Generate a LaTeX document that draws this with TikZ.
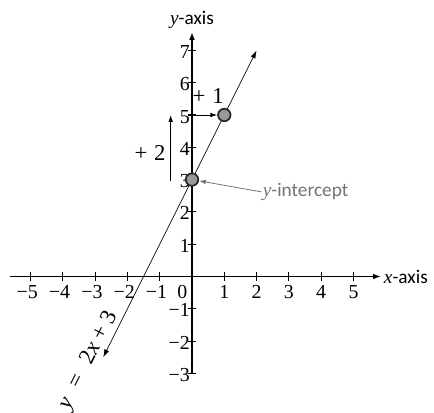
\documentclass[tikz,border=0pt]{standalone}
\usepackage{fontspec}
\setmainfont{Liberation Serif}
\newfontfamily\calfont{Carlito}
\usetikzlibrary{arrows.meta}
\begin{document}
\begin{tikzpicture}[x=1cm,y=1cm,
  axis/.style={line width=1.3pt,-{Latex[length=7pt,width=5pt]}},
  tick/.style={line width=0.9pt},
  ticklab/.style={font=\fontsize{17.5}{17.5}\selectfont,inner sep=0pt},
  graphline/.style={line width=0.6pt,{Latex[length=7pt,width=4.5pt]}-{Latex[length=7pt,width=4.5pt]}},
  pt/.style={circle,draw=black!85,line width=1.5pt,fill=black!40,minimum size=11pt,inner sep=0pt},
  bigl/.style={font=\fontsize{20}{20}\selectfont},
  axlab/.style={font=\fontsize{17}{17}\selectfont,inner sep=1pt}]
\useasboundingbox (-5.944,-4.195) rectangle (7.492,8.560);
% axes
\coordinate (xl) at (-5.63,0);
\coordinate (xr) at (5.85,0);
\coordinate (yb) at (0,-3);
\coordinate (yt) at (0,7.57);
\draw[axis] (xl) -- (xr);
\draw[axis] (yb) -- (yt);
\node[axlab,anchor=west] (xlab) at (5.9,0) {\textit{x}\calfont -axis};
\node[axlab,anchor=south] (ylab) at (0,7.62) {\textit{y}\calfont -axis};
% x ticks
\foreach \x in {-5,-4,-3,-2,-1,1,2,3,4,5}{
  \draw[tick] (\x,-0.13) -- (\x,0.13);
}
\foreach \x in {1,2,3,4,5}{
  \node[ticklab,anchor=base] (xt\x) at (\x,-0.67) {\x};
}
\foreach \x/\n in {-5/a,-4/b,-3/c,-2/d,-1/e}{
  \node[ticklab,anchor=base] (xtn\n) at (\x-0.1,-0.67) {−\the\numexpr-\x\relax};
}
\node[ticklab,anchor=base] (x0) at (-0.3,-0.67) {0};
% y ticks
\foreach \y in {-3,-2,-1,1,2,3,4,5,6,7}{
  \draw[tick] (-0.13,\y) -- (0.13,\y);
}
\foreach \y in {1,2,3,4,5,6,7}{
  \node[ticklab,anchor=base east] (yt\y) at (-0.06,\y-0.25) {\y};
}
\foreach \y/\n in {-1/a,-2/b,-3/c}{
  \node[ticklab,anchor=base east] (ytn\n) at (-0.06,\y-0.25) {−\the\numexpr-\y\relax};
}
% line y = 2x+3
\coordinate (lb) at (-2.75,-2.5);
\coordinate (lt) at (2,7);
\draw[graphline] (lb) -- (lt);
\node[bigl,rotate=63.43,inner sep=0pt] (eq) at (-3.2,-2.6) {\textit{y}\hspace{0.6em}=\hspace{0.6em}2\textit{x}\hspace{0.25em}+\hspace{0.25em}3};
% points
\node[pt] (p1) at (0,3) {};
\node[pt] (p2) at (1,5) {};
\draw[line width=0.7pt,-{Latex[length=6pt,width=4pt]}] (0.12,5) -- (p2);
\node[bigl] (plus1) at (0.5,5.58) {+\hspace{0.3em}1};
\coordinate (v1) at (-0.66,2.95);
\coordinate (v2) at (-0.66,5.0);
\draw[line width=0.7pt,-{Latex[length=6pt,width=4pt]}] (v1) -- (v2);
\node[bigl] (plus2) at (-1.3,3.82) {+\hspace{0.3em}2};
% y-intercept
\node[axlab,text=black!55,anchor=west] (yint) at (2.15,2.62) {\textit{y}\calfont -intercept};
\draw[black!55,line width=0.7pt,-{Latex[length=6pt,width=4pt]}] (yint.west) -- (p1);
\end{tikzpicture}
\end{document}
